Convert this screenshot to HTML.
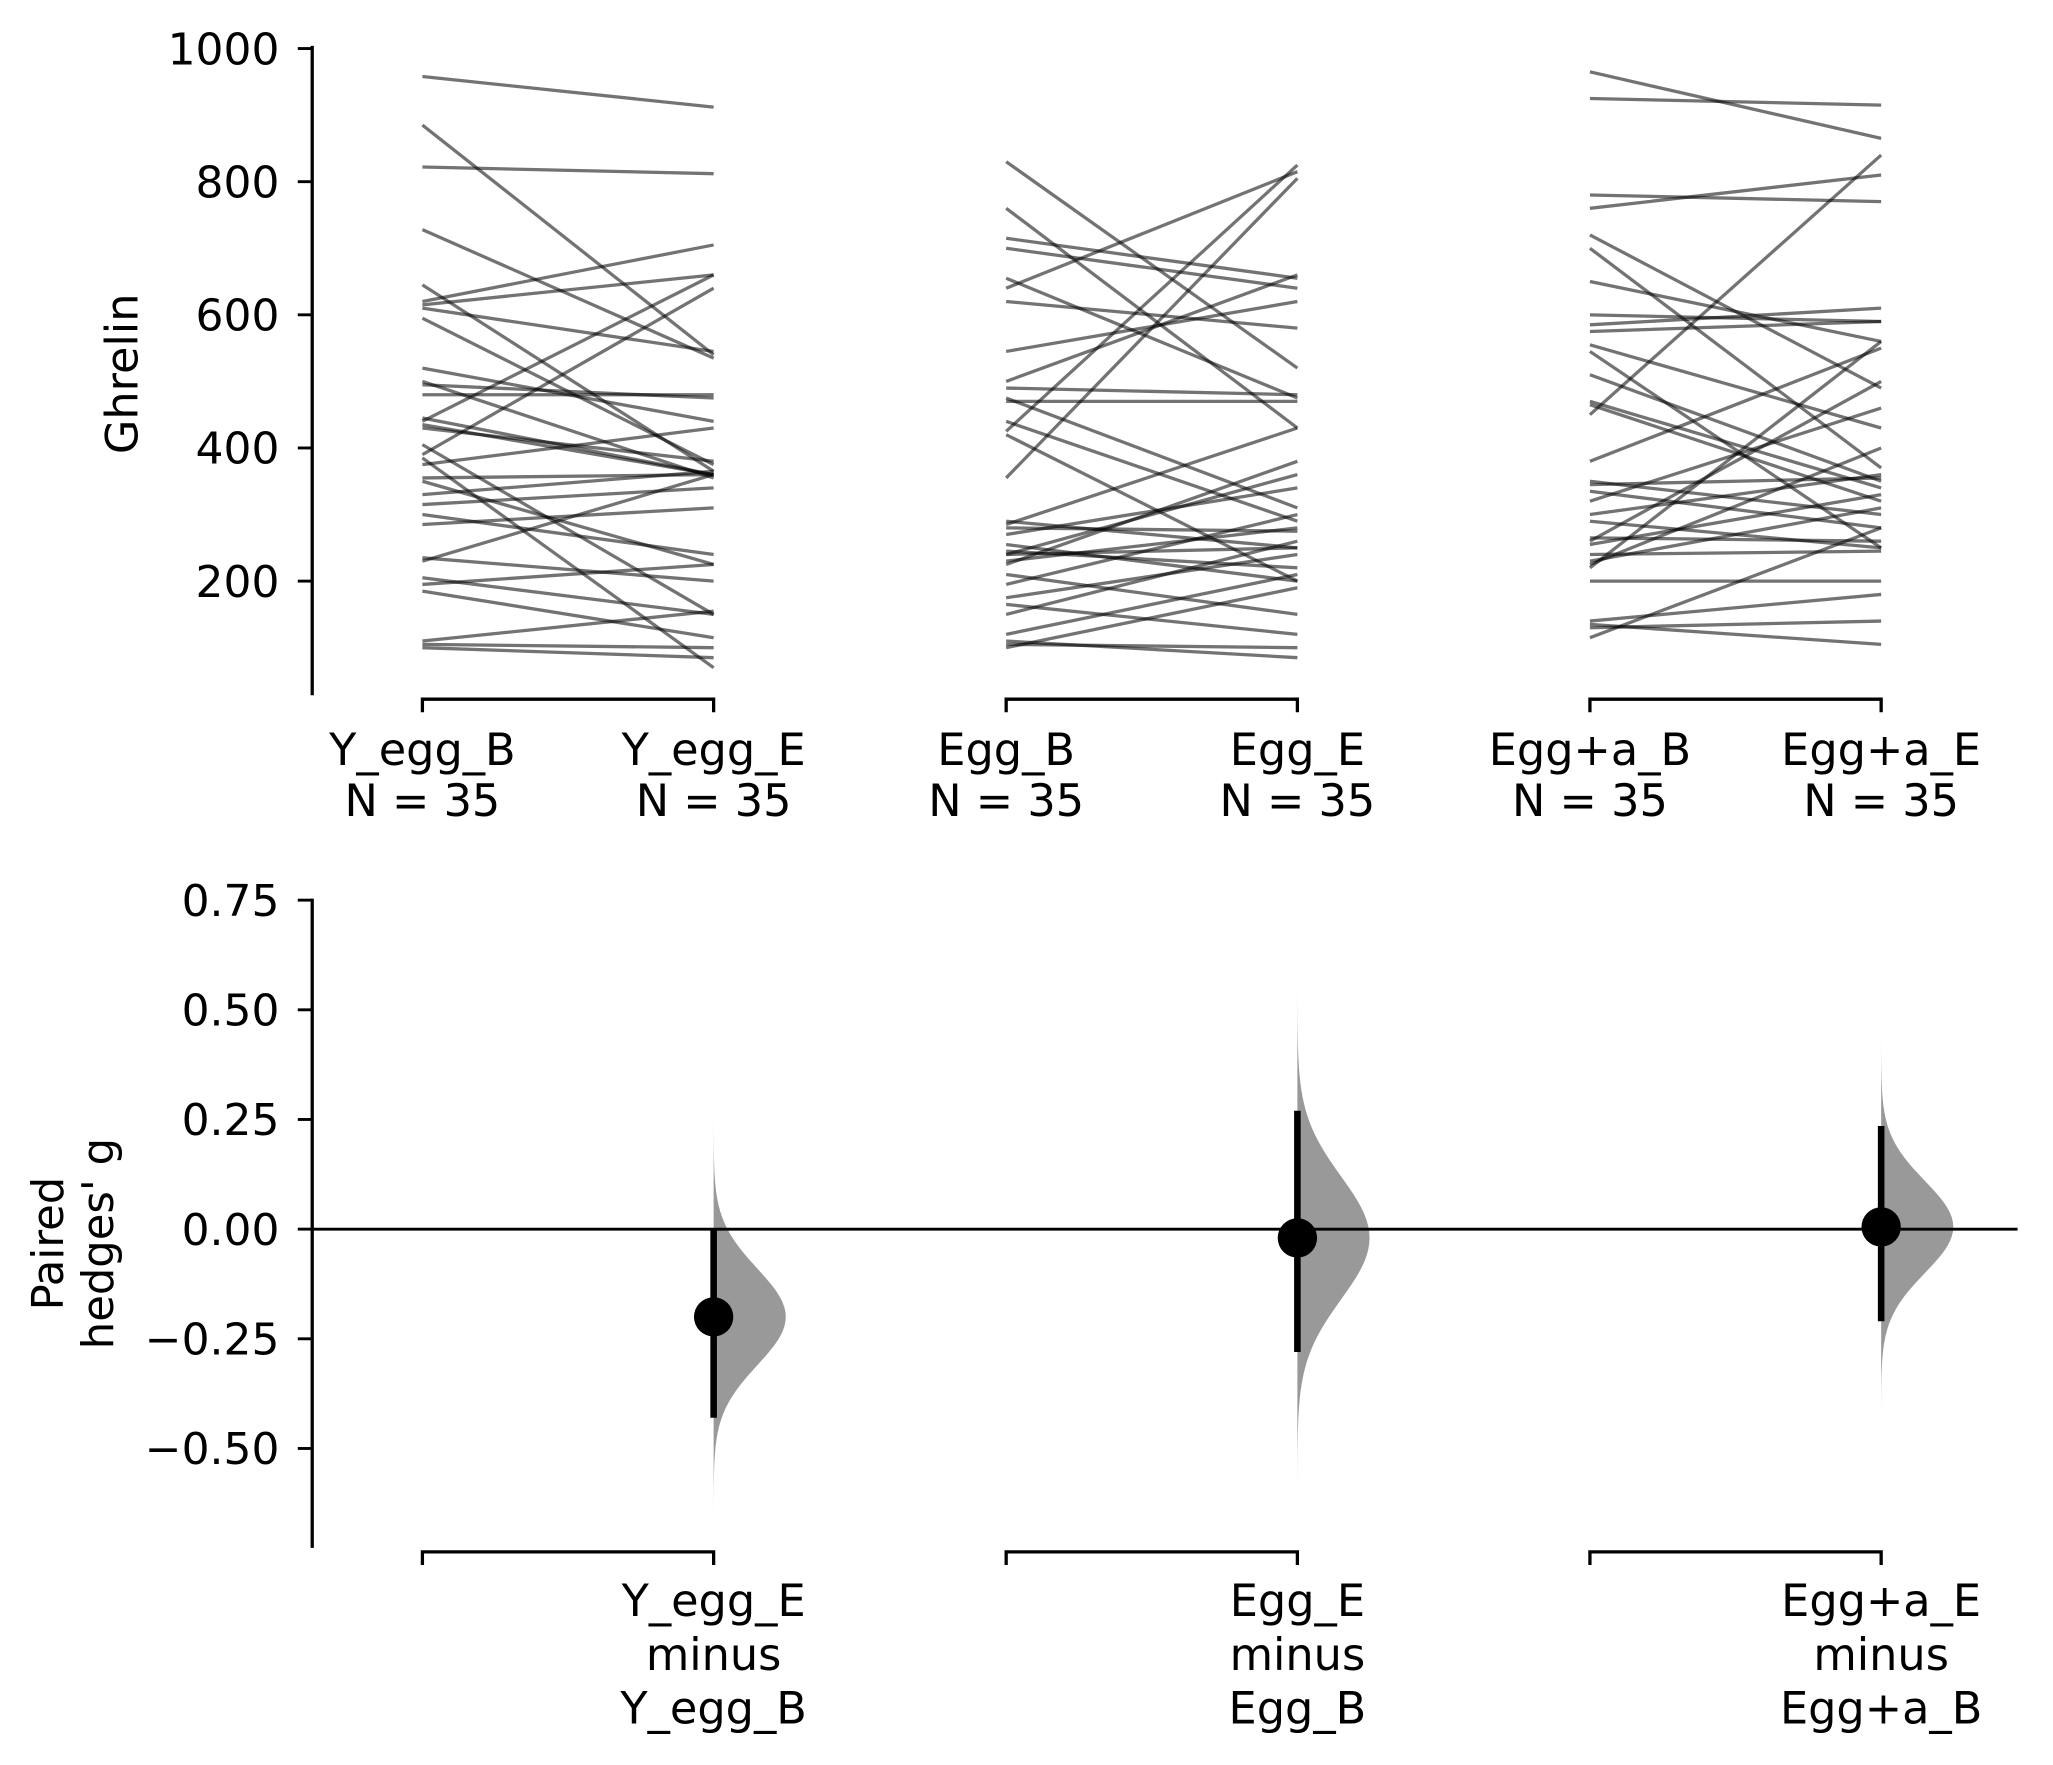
<!DOCTYPE html>
<html><head><meta charset="utf-8"><style>
html,body{margin:0;padding:0;background:#fff;}
svg{display:block;font-family:"DejaVu Sans","Liberation Sans",sans-serif;}
</style></head><body>
<svg id="chart" width="2053" height="1765" viewBox="0 0 1565 1345.5" preserveAspectRatio="none" xmlns="http://www.w3.org/2000/svg">
<g id="topg"></g>
<g id="botg"></g>
</svg>
<script>
const groupNames = ["Y_egg", "Egg", "Egg+a"];
const topTicks = [200, 400, 600, 800, 1000];
const botTicks = [-0.5, -0.25, 0, 0.25, 0.5, 0.75];
const botTickLabels = ["\u22120.50", "\u22120.25", "0.00", "0.25", "0.50", "0.75"];
const yEggBefore = [958,885,822,728,645,620,615,610,595,520,500,495,480,445,440,435,430,405,390,385,375,355,350,330,315,300,285,235,230,205,195,185,110,105,100];
const yEggAfter  = [912,540,812,535,365,705,660,545,375,440,355,475,480,360,660,360,380,150,640,70,430,360,225,365,340,240,310,200,360,150,225,115,155,100,85];
const eggBefore = [830,760,715,700,655,640,620,545,500,490,475,470,425,420,355,290,285,280,270,255,245,240,240,230,225,210,195,175,165,150,120,110,105,100,440];
const eggAfter  = [520,430,655,640,475,815,580,620,660,480,310,470,825,200,805,250,430,275,340,200,220,250,360,280,380,150,300,240,120,260,210,85,100,190,290];
const eggABefore = [965,925,780,760,720,700,650,585,575,555,545,510,470,465,450,380,350,345,335,320,300,290,265,260,255,240,230,225,220,140,135,130,115,200,600];
const eggAAfter  = [865,915,770,810,490,370,560,610,590,430,250,350,340,320,840,550,300,355,280,460,360,250,260,500,330,245,310,400,560,180,105,140,280,200,590];
const effects = [-0.20, -0.02, 0.005];
const ciLow = [-0.43, -0.28, -0.21];
const ciHigh = [0.0, 0.27, 0.235];
const distSd = [0.11, 0.14, 0.105];

const NS = "http://www.w3.org/2000/svg";
function mk(parent, tag, attrs, text){
  const e = document.createElementNS(NS, tag);
  for (const k in attrs) e.setAttribute(k, attrs[k]);
  if (text !== undefined) e.textContent = text;
  parent.appendChild(e); return e;
}
const xPos = [322, 544, 767, 989, 1212, 1434];
const yTop = v => 37 + (1000 - v) * 0.5075;
const yBot = g => 937 - g * 334.4;
const topG = document.getElementById('topg');
const botG = document.getElementById('botg');
const FS = 33.5;
const LFS = 34;

let a = mk(topG, 'line', {x1:238,y1:35,x2:238,y2:530,stroke:'#000','stroke-width':2.5});


topTicks.forEach(v => {
  const t = mk(topG, 'line', {x1:227,x2:238,y1:yTop(v),y2:yTop(v),stroke:'#000','stroke-width':2.2});
  
  
  const l = mk(topG, 'text', {x:213,y:yTop(v)+12,'text-anchor':'end','font-size':FS}, String(v));
  
  
});
let yl = mk(topG, 'text', {x:0,y:0,'font-size':34,'text-anchor':'middle',transform:'translate(105,285) rotate(-90)'}, 'Ghrelin');



const pairs = [[yEggBefore, yEggAfter], [eggBefore, eggAfter], [eggABefore, eggAAfter]];
pairs.forEach((p, gi) => {
  const x1 = xPos[gi*2], x2 = xPos[gi*2+1];
  p[0].forEach((b, i) => {
    const ln = mk(topG, 'line', {x1:x1,y1:yTop(b),x2:x2,y2:yTop(p[1][i]),stroke:'#000','stroke-opacity':0.55,'stroke-width':2.5});
    
    
  });
  const br = mk(topG, 'path', {d:`M${x1},543 V533 H${x2} V543`,fill:'none',stroke:'#000','stroke-width':2.5});
  
  
  [[x1, groupNames[gi] + '_B'], [x2, groupNames[gi] + '_E']].forEach(([x, n]) => {
    const t = mk(topG, 'text', {x:x,y:583,'text-anchor':'middle','font-size':LFS}, n);
    
    
    const t2 = mk(topG, 'text', {x:x,y:622,'text-anchor':'middle','font-size':LFS}, 'N = 35');
    
    
  });
});

a = mk(botG, 'line', {x1:238,y1:685,x2:238,y2:1180,stroke:'#000','stroke-width':2.5});


botTicks.forEach((g, i) => {
  const t = mk(botG, 'line', {x1:227,x2:238,y1:yBot(g),y2:yBot(g),stroke:'#000','stroke-width':2.2});
  
  
  const l = mk(botG, 'text', {x:213,y:yBot(g)+12,'text-anchor':'end','font-size':FS}, botTickLabels[i]);
  
  
});
const yt = mk(botG, 'text', {x:0,y:0,'font-size':33,'text-anchor':'middle',transform:'translate(48,948) rotate(-90)'});


mk(yt, 'tspan', {x:0,dy:0}, 'Paired');
mk(yt, 'tspan', {x:0,dy:38}, "hedges' g");

effects.forEach((m, gi) => {
  const x = xPos[gi*2+1], sd = distSd[gi];
  let d = `M${x},${yBot(m + 4.2*sd)}`;
  for (let k = -42; k <= 42; k++) {
    const z = k / 10, g = m - z * sd;
    d += ` L${x + 55 * Math.exp(-z*z/2)},${yBot(g)}`;
  }
  d += ` L${x},${yBot(m - 4.2*sd)} Z`;
  const dist = mk(botG, 'path', {d:d,fill:'#808080','fill-opacity':0.8});
  
  
});
const zl = mk(botG, 'line', {x1:238,x2:1538,y1:yBot(0),y2:yBot(0),stroke:'#000','stroke-width':2.2});


effects.forEach((m, gi) => {
  const x = xPos[gi*2+1], x0 = xPos[gi*2];
  const ci = mk(botG, 'line', {x1:x,x2:x,y1:yBot(ciLow[gi]),y2:yBot(ciHigh[gi]),stroke:'#000','stroke-width':5});
  
  
  const c = mk(botG, 'circle', {cx:x,cy:yBot(m),r:15,fill:'#000'});
  
  
  const br = mk(botG, 'path', {d:`M${x0},1193 V1183 H${x} V1193`,fill:'none',stroke:'#000','stroke-width':2.5});
  
  
  const names = [groupNames[gi] + '_E', 'minus', groupNames[gi] + '_B'];
  names.forEach((n, j) => {
    const t = mk(botG, 'text', {x:x,y:1232 + j*41,'text-anchor':'middle','font-size':LFS}, n);
    
    
  });
});
</script>
</body></html>
